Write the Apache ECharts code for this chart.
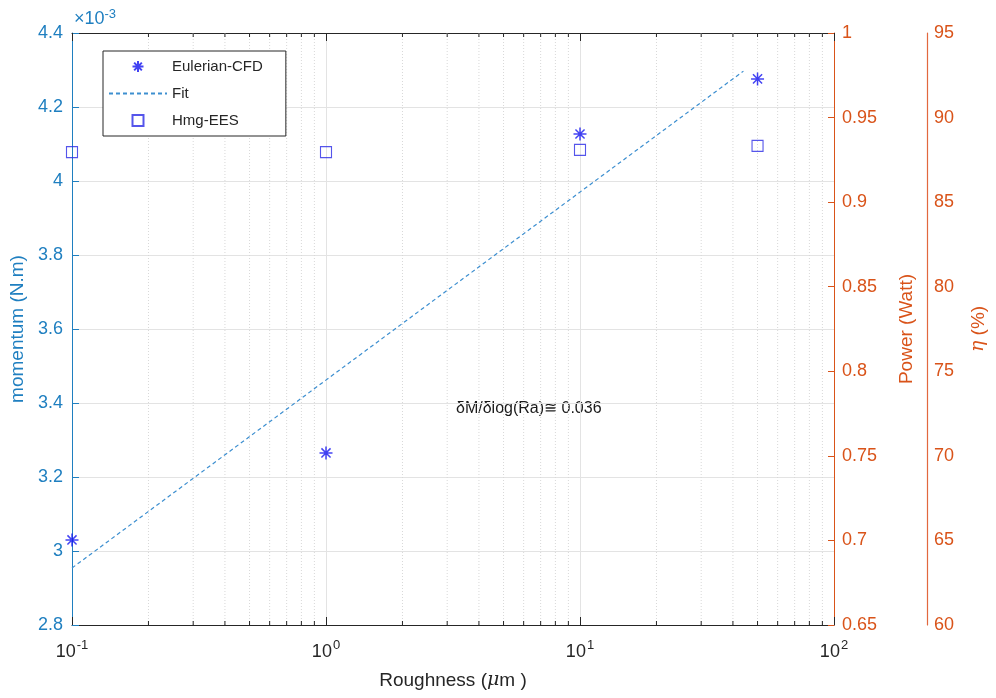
<!DOCTYPE html>
<html>
<head>
<meta charset="utf-8">
<script src="https://cdn.jsdelivr.net/npm/echarts@6/dist/echarts.min.js"></script>
<style>
  html, body { margin: 0; padding: 0; background: #fff; }
  #chart { width: 996px; height: 698px; }
</style>
</head>
<body>
<div id="chart"></div>
<script>
  // values in units of 1e-3 N.m
  const roughness = [0.1, 1, 10, 50];
  const cfdMomentum = [3.03, 3.265, 4.127, 4.276];
  const eesMomentum = [4.078, 4.078, 4.084, 4.095];
  const fitRoughness = [0.1, 44];
  const fitMomentum = [2.954, 4.297];
  const minorTicks = [0.2, 0.3, 0.4, 0.5, 0.6, 0.7, 0.8, 0.9,
    2, 3, 4, 5, 6, 7, 8, 9, 20, 30, 40, 50, 60, 70, 80, 90];

  const font = "'Liberation Sans', Arial, sans-serif";
  const blue = '#1f7fc0';
  const orange = '#d95319';
  const dark = '#262626';
  const yMin = 2.8, yMax = 4.4;

  const star = 'path://M5 0L5 10M0 5L10 5M1.5 1.5L8.5 8.5M8.5 1.5L1.5 8.5';
  const square = 'path://M0 0L10 0L10 10L0 10Z';

  const chart = echarts.init(document.getElementById('chart'), null, { renderer: 'canvas' });

  const expLabel = v => {
    const e = Math.round(Math.log10(v));
    return '{b|10}{s|' + e + '}';
  };

  const option = {
    animation: false,
    textStyle: { fontFamily: font },
    grid: { left: 72, right: 161, top: 33, bottom: 73 },
    legend: {
      orient: 'vertical',
      left: 103,
      top: 51,
      padding: [8, 23, 8, 5],
      itemGap: 12,
      itemWidth: 58,
      itemHeight: 11,
      borderColor: dark,
      borderWidth: 1,
      backgroundColor: '#fff',
      textStyle: { fontFamily: font, fontSize: 15, color: dark },
      data: [
        'Eulerian-CFD',
        { name: 'Fit', itemStyle: { opacity: 0 } },
        'Hmg-EES'
      ]
    },
    xAxis: [{
      type: 'log',
      logBase: 10,
      min: 0.1,
      max: 100,
      name: 'Roughness ({i|μ}m )',
      nameLocation: 'middle',
      nameGap: 46,
      nameTextStyle: {
        fontSize: 19, color: dark, fontFamily: font,
        rich: { i: { fontSize: 19, fontStyle: 'italic', fontFamily: 'DejaVu Serif', color: dark } }
      },
      axisLine: { lineStyle: { color: dark, width: 1 } },
      axisTick: { inside: true, length: 8, lineStyle: { color: dark } },
      axisLabel: {
        margin: 14,
        formatter: expLabel,
        rich: {
          b: { fontSize: 18, color: dark, fontFamily: font, lineHeight: 22, verticalAlign: 'bottom' },
          s: { fontSize: 13, color: dark, fontFamily: font, lineHeight: 22, verticalAlign: 'top', padding: [0, 0, 10, 1] }
        }
      },
      splitLine: { show: true, lineStyle: { color: '#e3e3e3', width: 1 } }
    }, {
      type: 'log',
      logBase: 10,
      min: 0.1,
      max: 100,
      position: 'top',
      axisLine: { lineStyle: { color: dark, width: 1 } },
      axisTick: { inside: true, length: 8, lineStyle: { color: dark } },
      axisLabel: { show: false },
      splitLine: { show: false }
    }],
    yAxis: [{
      type: 'value',
      position: 'left',
      min: yMin,
      max: yMax,
      interval: 0.2,
      name: 'momentum (N.m)',
      nameLocation: 'middle',
      nameRotate: 90,
      nameGap: 45,
      nameTextStyle: { fontSize: 19, color: blue, fontFamily: font },
      axisLine: { show: true, lineStyle: { color: blue, width: 1 } },
      axisTick: { show: true, inside: true, length: 7, lineStyle: { color: blue } },
      axisLabel: {
        color: blue, fontSize: 18, margin: 9, fontFamily: font,
        formatter: v => String(+v.toFixed(2))
      },
      splitLine: { show: true, lineStyle: { color: '#e3e3e3', width: 1 } }
    }, {
      type: 'value',
      position: 'right',
      min: 0.65,
      max: 1,
      interval: 0.05,
      name: 'Power (Watt)',
      nameLocation: 'middle',
      nameRotate: 90,
      nameGap: 63,
      nameTextStyle: { fontSize: 19, color: orange, fontFamily: font },
      axisLine: { show: true, lineStyle: { color: orange, width: 1 } },
      axisTick: { show: true, inside: true, length: 6, lineStyle: { color: orange } },
      axisLabel: {
        color: orange, fontSize: 18, margin: 8, fontFamily: font,
        formatter: v => String(+v.toFixed(2))
      },
      splitLine: { show: false }
    }, {
      type: 'value',
      position: 'right',
      offset: 93,
      min: 60,
      max: 95,
      interval: 5,
      name: '{i|η} (%)',
      nameLocation: 'middle',
      nameRotate: 90,
      nameGap: 42,
      nameTextStyle: {
        fontSize: 19, color: orange, fontFamily: font,
        rich: { i: { fontSize: 19, fontStyle: 'italic', fontFamily: 'DejaVu Serif', color: orange } }
      },
      axisLine: { show: true, lineStyle: { color: '#e2683e', width: 1.2 } },
      axisTick: { show: false },
      axisLabel: { color: orange, fontSize: 18, margin: 7, fontFamily: font },
      splitLine: { show: false }
    }],
    graphic: [{
      type: 'text',
      left: 74,
      top: 8,
      style: {
        text: '×10{s|-3}',
        fill: blue,
        font: '18px ' + font,
        rich: { s: { fontSize: 13, fill: blue, verticalAlign: 'top', padding: [0, 0, 10, 0] } }
      }
    }, {
      type: 'text',
      left: 456,
      top: 401,
      style: {
        text: 'δM/δlog(Ra)≅ 0.036',
        fill: '#1a1a1a',
        font: '16px ' + font
      }
    }],
    series: [{
      name: 'minor',
      type: 'custom',
      silent: true,
      xAxisIndex: 0,
      yAxisIndex: 0,
      clip: false,
      data: minorTicks.map(v => [v]),
      encode: { x: 0 },
      renderItem: (params, api) => {
        const x = api.value(0);
        const top = api.coord([x, yMax]);
        const bot = api.coord([x, yMin]);
        return {
          type: 'group',
          children: [{
            type: 'line',
            shape: { x1: top[0], y1: top[1], x2: bot[0], y2: bot[1] },
            style: { stroke: '#d8d8d8', lineWidth: 1, lineDash: [1, 2] }
          }, {
            type: 'line',
            shape: { x1: bot[0], y1: bot[1], x2: bot[0], y2: bot[1] - 4 },
            style: { stroke: dark, lineWidth: 1 }
          }, {
            type: 'line',
            shape: { x1: top[0], y1: top[1], x2: top[0], y2: top[1] + 4 },
            style: { stroke: dark, lineWidth: 1 }
          }]
        };
      },
      z: 1
    }, {
      name: 'Eulerian-CFD',
      type: 'scatter',
      clip: false,
      symbol: star,
      symbolSize: 13,
      itemStyle: { color: '#1414f0', borderColor: '#1414f0', borderWidth: 1.5 },
      data: roughness.map((x, i) => [x, cfdMomentum[i]]),
      z: 5
    }, {
      name: 'Fit',
      type: 'line',
      symbol: 'none',
      lineStyle: { color: '#3d8fd0', width: 1.2, type: [4, 3] },
      itemStyle: { color: '#3d8fd0' },
      data: fitRoughness.map((x, i) => [x, fitMomentum[i]]),
      z: 4
    }, {
      name: 'Hmg-EES',
      type: 'scatter',
      clip: false,
      symbol: square,
      symbolSize: 11,
      symbolKeepAspect: true,
      itemStyle: { color: 'rgba(255,255,255,0)', borderColor: '#2a2ae6', borderWidth: 1.1 },
      data: roughness.map((x, i) => [x, eesMomentum[i]]),
      z: 5
    }]
  };

  chart.setOption(option);
</script>
</body>
</html>
